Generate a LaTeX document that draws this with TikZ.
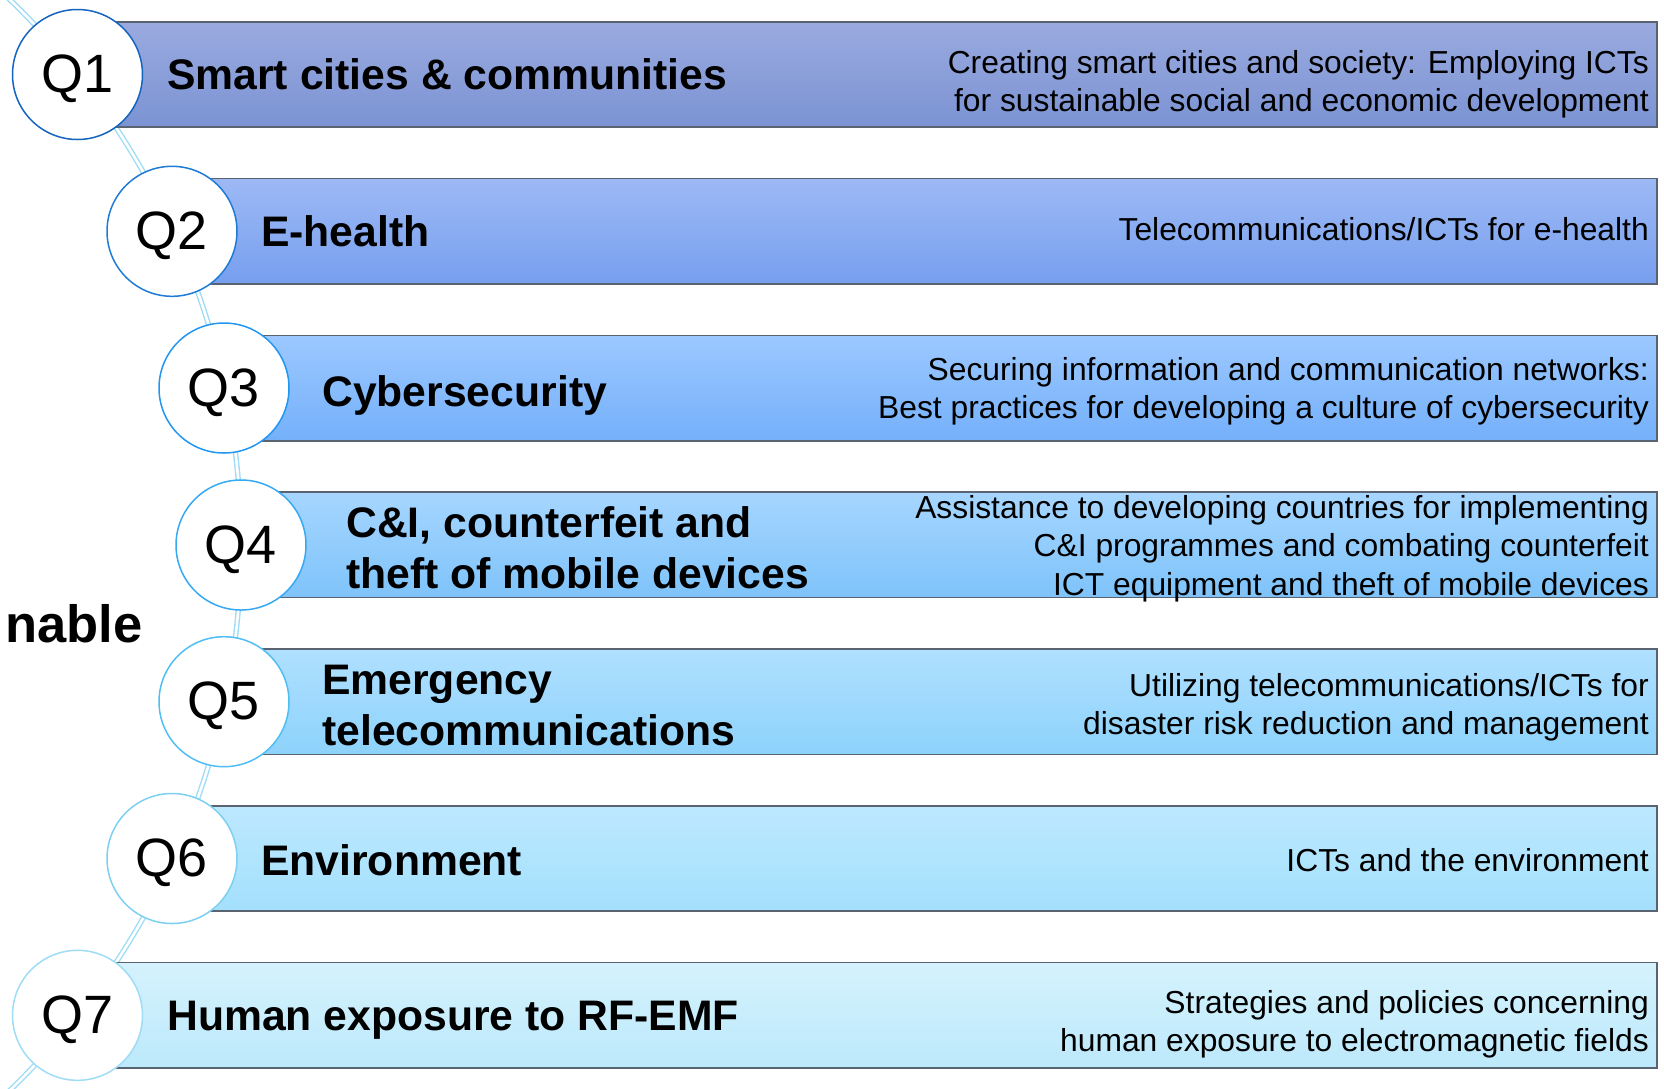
\documentclass[tikz,border=0pt]{standalone}
\usepackage{fontspec}
\setmainfont{Liberation Sans}
\newcommand{\qlbl}[1]{\raisebox{-4.5pt}[\height][\depth]{#1}}
\begin{document}
\begin{tikzpicture}[x=1pt,y=-1pt,
  bar/.style={draw=barline, line width=1.6pt},
  qcirc/.style={circle, fill=white, line width=1.5pt, minimum size=130pt, inner sep=0pt,
    font=\fontsize{54}{60}\selectfont},
  title/.style={anchor=west, align=left, inner sep=0pt,
    font=\fontsize{42.7}{51}\selectfont\bfseries},
  desc/.style={anchor=east, align=right, inner sep=0pt,
    font=\fontsize{31.8}{38.3}\selectfont},
  arcline/.style={draw=arcblue, line width=1.4pt, double=white, double distance=2.6pt}
]
\definecolor{barline}{HTML}{5A6370}
\definecolor{arcblue}{HTML}{9EDCF5}
\definecolor{bAt}{HTML}{9AAADF}\definecolor{bAb}{HTML}{7B93D3}
\definecolor{bBt}{HTML}{9DB9F5}\definecolor{bBb}{HTML}{779FEE}
\definecolor{bCt}{HTML}{9CC8FF}\definecolor{bCb}{HTML}{74B0FA}
\definecolor{bDt}{HTML}{A6D6FF}\definecolor{bDb}{HTML}{7EC3FA}
\definecolor{bEt}{HTML}{B0E0FF}\definecolor{bEb}{HTML}{8DD2FB}
\definecolor{bFt}{HTML}{BDE8FF}\definecolor{bFb}{HTML}{A3E0FC}
\definecolor{bGt}{HTML}{D5F2FD}\definecolor{bGb}{HTML}{BCE9FB}
\definecolor{cA}{HTML}{1565C0}
\definecolor{cB}{HTML}{1E7BD6}
\definecolor{cC}{HTML}{2196F3}
\definecolor{cD}{HTML}{36A9F5}
\definecolor{cE}{HTML}{50BEF5}
\definecolor{cF}{HTML}{7DD0F2}
\definecolor{cG}{HTML}{9EDDF5}

\useasboundingbox (0,0) rectangle (1664,1088);

% background arc
\begin{scope}
\clip (0,0) rectangle (1664,1088);
\draw[arcline] (-518,545) circle[radius=759];
\end{scope}

% bars
\draw[bar, top color=bAt, bottom color=bAb] (77.5,21.7) rectangle (1657,127.2);
\draw[bar, top color=bBt, bottom color=bBb] (172,178.5) rectangle (1657,284);
\draw[bar, top color=bCt, bottom color=bCb] (224,335.3) rectangle (1657,440.8);
\draw[bar, top color=bDt, bottom color=bDb] (241,492.1) rectangle (1657,597.6);
\draw[bar, top color=bEt, bottom color=bEb] (224,648.9) rectangle (1657,754.4);
\draw[bar, top color=bFt, bottom color=bFb] (172,805.7) rectangle (1657,911.2);
\draw[bar, top color=bGt, bottom color=bGb] (77.5,962.5) rectangle (1657,1068);

% circles
\node[qcirc, draw=cA] (q1) at (77.5,74.5) {\qlbl{Q1}};
\node[qcirc, draw=cB] (q2) at (172,231.3) {\qlbl{Q2}};
\node[qcirc, draw=cC] (q3) at (224,388) {\qlbl{Q3}};
\node[qcirc, draw=cD] (q4) at (241,545) {\qlbl{Q4}};
\node[qcirc, draw=cE] (q5) at (224,701.7) {\qlbl{Q5}};
\node[qcirc, draw=cF] (q6) at (172,858.5) {\qlbl{Q6}};
\node[qcirc, draw=cG] (q7) at (77.5,1015.3) {\qlbl{Q7}};

% titles
\node[title] (t1) at (167,74.5) {Smart cities \& communities};
\node[title] (t2) at (261,231.3) {E-health};
\node[title] (t3) at (322,395) {Cybersecurity};
\node[title] (t4) at (346,547.5) {C\&I, counterfeit and\\theft of mobile devices};
\node[title] (t5) at (322,705.5) {Emergency\\telecommunications};
\node[title] (t6) at (261,860) {Environment};
\node[title] (t7) at (167,1020) {Human exposure to RF-EMF};

% descriptions
\node[desc] (d1) at (1649,84) {Creating smart cities and society: Employing ICTs\\for sustainable social and economic development};
\node[desc] (d2) at (1649,229) {Telecommunications/ICTs for e-health};
\node[desc] (d3) at (1649,391) {Securing information and communication networks:\\Best practices for developing a culture of cybersecurity};
\node[desc] (d4) at (1649,548.5) {Assistance to developing countries for implementing\\C\&I programmes and combating counterfeit\\ICT equipment and theft of mobile devices};
\node[desc] (d5) at (1649,707) {Utilizing telecommunications/ICTs for\\disaster risk reduction and management};
\node[desc] (d6) at (1649,860) {ICTs and the environment};
\node[desc] (d7) at (1649,1024) {Strategies and policies concerning\\human exposure to electromagnetic fields};

% truncated side label
\node[anchor=base west, inner sep=0pt, font=\fontsize{52.5}{60}\selectfont\bfseries] (side) at (5,642) {nable};
\end{tikzpicture}
\end{document}
